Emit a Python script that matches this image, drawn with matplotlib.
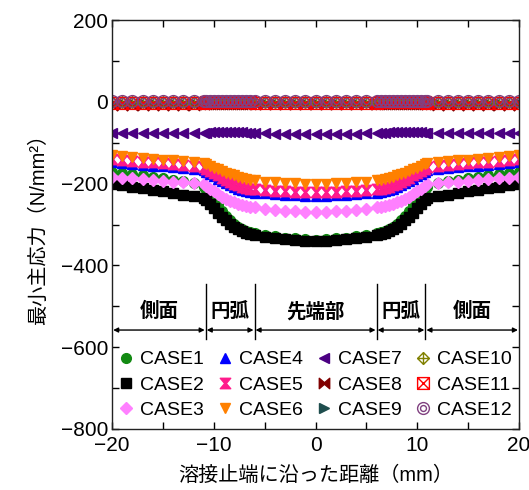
import matplotlib
matplotlib.use("Agg")
import matplotlib.pyplot as plt
from matplotlib.path import Path
from matplotlib.ticker import MultipleLocator

plt.rcParams['font.family'] = ['Liberation Sans', 'Noto Sans CJK JP']
plt.rcParams['axes.unicode_minus'] = True

# --- data ---
dist = [-20, -19, -18, -17, -16, -15, -14, -13, -12, -11,
        -10.8, -10.4, -10.0, -9.6, -9.2, -8.8, -8.4, -8.0, -7.6, -7.2, -6.8, -6.4,
        -6, -5, -4, -3, -2, -1, 0, 1, 2, 3, 4, 5, 6,
        6.4, 6.8, 7.2, 7.6, 8.0, 8.4, 8.8, 9.2, 9.6, 10.0, 10.4, 10.8,
        11, 12, 13, 14, 15, 16, 17, 18, 19, 20]

case1 = [-172, -174, -177, -180, -183, -186, -190, -194, -199, -208,
         -215, -225, -238, -252, -266, -279, -290, -299, -306, -311, -315, -318,
         -321, -325, -329, -332, -334, -336, -337, -336, -334, -332, -329, -325, -321,
         -318, -315, -311, -306, -299, -290, -279, -266, -252, -238, -225, -215,
         -208, -199, -194, -190, -186, -183, -180, -177, -174, -172]
case2 = [-201, -204, -207, -211, -215, -219, -223, -227, -231, -236,
         -241, -250, -260, -271, -281, -290, -298, -305, -311, -316, -320, -323,
         -326, -330, -333, -336, -338, -340, -341, -340, -338, -336, -333, -330, -326,
         -323, -320, -316, -311, -305, -298, -290, -281, -271, -260, -250, -241,
         -236, -231, -227, -223, -219, -215, -211, -207, -204, -201]
case3 = [-183, -185, -187, -189, -191, -193, -195, -197, -199, -202,
         -205, -212, -219, -226, -232, -237, -242, -246, -249, -252, -254, -256,
         -258, -261, -264, -266, -268, -269, -270, -269, -268, -266, -264, -261, -258,
         -256, -254, -252, -249, -246, -242, -237, -232, -226, -219, -212, -205,
         -202, -199, -197, -195, -193, -191, -189, -187, -185, -183]
case4 = [-148, -150, -152, -154, -156, -158, -160, -162, -164, -167,
         -171, -176, -182, -188, -194, -199, -204, -208, -212, -215, -218, -220,
         -222, -224, -226, -227, -228, -229, -229, -229, -228, -227, -226, -224, -222,
         -220, -218, -215, -212, -208, -204, -199, -194, -188, -182, -176, -171,
         -167, -164, -162, -160, -158, -156, -154, -152, -150, -148]
case5 = [-140, -142, -144, -146, -148, -150, -152, -154, -156, -159,
         -163, -168, -174, -180, -186, -191, -196, -200, -204, -207, -210, -212,
         -214, -216, -218, -219, -220, -221, -221, -221, -220, -219, -218, -216, -214,
         -212, -210, -207, -204, -200, -196, -191, -186, -180, -174, -168, -163,
         -159, -156, -154, -152, -150, -148, -146, -144, -142, -140]
case6 = [-131, -133, -135, -137, -139, -141, -143, -145, -147, -150,
         -153, -157, -161, -165, -169, -173, -177, -180, -183, -186, -188, -190,
         -192, -195, -197, -198, -199, -200, -200, -200, -199, -198, -197, -195, -192,
         -190, -188, -186, -183, -180, -177, -173, -169, -165, -161, -157, -153,
         -150, -147, -145, -143, -141, -139, -137, -135, -133, -131]
case7 = [-76, -76, -76, -76, -76, -76, -76, -76, -76, -76,
         -75, -74, -74, -74, -74, -74, -74, -74, -74, -74, -75, -75,
         -77, -77, -78, -78, -78, -78, -78, -78, -78, -78, -78, -77, -77,
         -75, -75, -74, -74, -74, -74, -74, -74, -74, -74, -74, -75,
         -76, -76, -76, -76, -76, -76, -76, -76, -76, -76]
case8 = [-7, -7, -7, -7, -7, -7, -7, -7, -7, -6,
         -5, -4, -4, -4, -4, -4, -4, -4, -4, -4, -5, -5,
         -6, -6, -6, -6, -6, -6, -6, -6, -6, -6, -6, -6, -6,
         -5, -5, -4, -4, -4, -4, -4, -4, -4, -4, -4, -5,
         -6, -7, -7, -7, -7, -7, -7, -7, -7, -7]
case9 = [-3, -3, -3, -3, -3, -3, -3, -3, -3, -3,
         -2, -2, -2, -2, -2, -2, -2, -2, -2, -2, -2, -2,
         -3, -3, -3, -3, -3, -3, -3, -3, -3, -3, -3, -3, -3,
         -2, -2, -2, -2, -2, -2, -2, -2, -2, -2, -2, -2,
         -3, -3, -3, -3, -3, -3, -3, -3, -3, -3]
case10 = [0, 0, 0, 0, 0, 0, 0, 0, 0, 0,
          0, 0, 0, 0, 0, 0, 0, 0, 0, 0, 0, 0,
          0, 0, 0, 0, 0, 0, 0, 0, 0, 0, 0, 0, 0,
          0, 0, 0, 0, 0, 0, 0, 0, 0, 0, 0, 0,
          0, 0, 0, 0, 0, 0, 0, 0, 0, 0]
case11 = [-2, -2, -2, -2, -2, -2, -2, -2, -2, -2,
          -1, -1, -1, -1, -1, -1, -1, -1, -1, -1, -1, -1,
          -2, -2, -2, -2, -2, -2, -2, -2, -2, -2, -2, -2, -2,
          -1, -1, -1, -1, -1, -1, -1, -1, -1, -1, -1, -1,
          -2, -2, -2, -2, -2, -2, -2, -2, -2, -2]
case12 = [2, 2, 2, 2, 2, 2, 2, 2, 2, 2,
          2, 2, 2, 2, 2, 2, 2, 2, 2, 2, 2, 2,
          1, 1, 1, 1, 1, 1, 1, 1, 1, 1, 1, 1, 1,
          2, 2, 2, 2, 2, 2, 2, 2, 2, 2, 2, 2,
          2, 2, 2, 2, 2, 2, 2, 2, 2, 2]

labels = ["CASE%d" % i for i in range(1, 13)]
series = [case1, case2, case3, case4, case5, case6,
          case7, case8, case9, case10, case11, case12]

region_edges = [-20, -10.8, -6, 6, 10.8, 20]
region_names = ["側面", "円弧", "先端部", "円弧", "側面"]

# --- custom markers ---
hourglass = Path([(-1, 1), (1, 1), (0.15, 0), (1, -1), (-1, -1), (-0.15, 0), (-1, 1)],
                 [Path.MOVETO] + [Path.LINETO] * 5 + [Path.CLOSEPOLY])
bowtie = Path([(-1, -1), (-1, 1), (0, 0.15), (1, 1), (1, -1), (0, -0.15), (-1, -1)],
              [Path.MOVETO] + [Path.LINETO] * 5 + [Path.CLOSEPOLY])
diamond_plus = Path([(0, 1), (1, 0), (0, -1), (-1, 0), (0, 1),
                     (0, 1), (0, -1), (-1, 0), (1, 0)],
                    [Path.MOVETO, Path.LINETO, Path.LINETO, Path.LINETO, Path.CLOSEPOLY,
                     Path.MOVETO, Path.LINETO, Path.MOVETO, Path.LINETO])
square_x = Path([(-1, -1), (1, -1), (1, 1), (-1, 1), (-1, -1),
                 (-1, -1), (1, 1), (-1, 1), (1, -1)],
                [Path.MOVETO, Path.LINETO, Path.LINETO, Path.LINETO, Path.CLOSEPOLY,
                 Path.MOVETO, Path.LINETO, Path.MOVETO, Path.LINETO])
double_circle = Path.make_compound_path(Path.circle((0, 0), 1.0), Path.circle((0, 0), 0.5))

styles = [
    dict(marker='o', color='#128a12', ms=7),
    dict(marker='s', color='black', ms=7),
    dict(marker='D', color='#ff80ff', ms=6),
    dict(marker='^', color='#0000ff', ms=7),
    dict(marker=hourglass, color='#ff1a8c', ms=7.5),
    dict(marker='v', color='#ff8000', ms=7),
    dict(marker='<', color='#4b0082', ms=7),
    dict(marker=bowtie, color='#800000', ms=7.5),
    dict(marker='>', color='#1e4d4d', ms=7),
    dict(marker=diamond_plus, color='#808000', ms=8.5, mfc='none', mew=1.0),
    dict(marker=square_x, color='#ff0000', ms=8.5, mfc='none', mew=1.0),
    dict(marker=double_circle, color='#804080', ms=8.5, mfc='none', mew=1.0),
]

fig = plt.figure(figsize=(5.29, 4.90), dpi=100)
ax = fig.add_axes([0.212, 0.1245, 0.769, 0.8345])

for ys, lab, st in zip(series, labels, styles):
    st = dict(st)
    c = st.pop('color')
    ax.plot(dist, ys, linestyle='none', color=c, mec=c, label=lab, **st)

ax.set_xlim(-20, 20)
ax.set_ylim(-800, 200)
ax.xaxis.set_major_locator(MultipleLocator(10))
ax.xaxis.set_minor_locator(MultipleLocator(5))
ax.yaxis.set_major_locator(MultipleLocator(200))
ax.yaxis.set_minor_locator(MultipleLocator(100))
ax.tick_params(which='both', direction='in', top=True, right=True, length=5, width=1, labelsize=15)
ax.tick_params(axis='x', pad=5)
ax.tick_params(axis='y', pad=3)
for sp in ax.spines.values():
    sp.set_linewidth(1.0)
    sp.set_color('#222222')

ax.set_xlabel("溶接止端に沿った距離（mm）", fontsize=14.5, labelpad=8)
ax.set_ylabel("最小主応力（N/mm²）", fontsize=14.5, labelpad=9)

# region annotations
for xe in region_edges[1:-1]:
    ax.plot([xe, xe], [-445, -580], color='black', lw=1.0)
for i, name in enumerate(region_names):
    x0, x1 = region_edges[i], region_edges[i + 1]
    ax.annotate("", xy=(x0 + 0.1, -558), xytext=(x1 - 0.1, -558),
                arrowprops=dict(arrowstyle='<|-|>', color='black', lw=1.0,
                                mutation_scale=7, shrinkA=0, shrinkB=0))
    ax.text((x0 + x1) / 2, -513, name, ha='center', va='center',
            fontsize=14, fontweight='bold')

ax.legend(loc='upper left', bbox_to_anchor=(-0.015, 0.22), ncol=4, frameon=False,
          fontsize=14, handlelength=0.9, handletextpad=0.25, columnspacing=0.65,
          labelspacing=0.4, borderaxespad=0.2, numpoints=1)

fig.savefig("out.png", dpi=100)
